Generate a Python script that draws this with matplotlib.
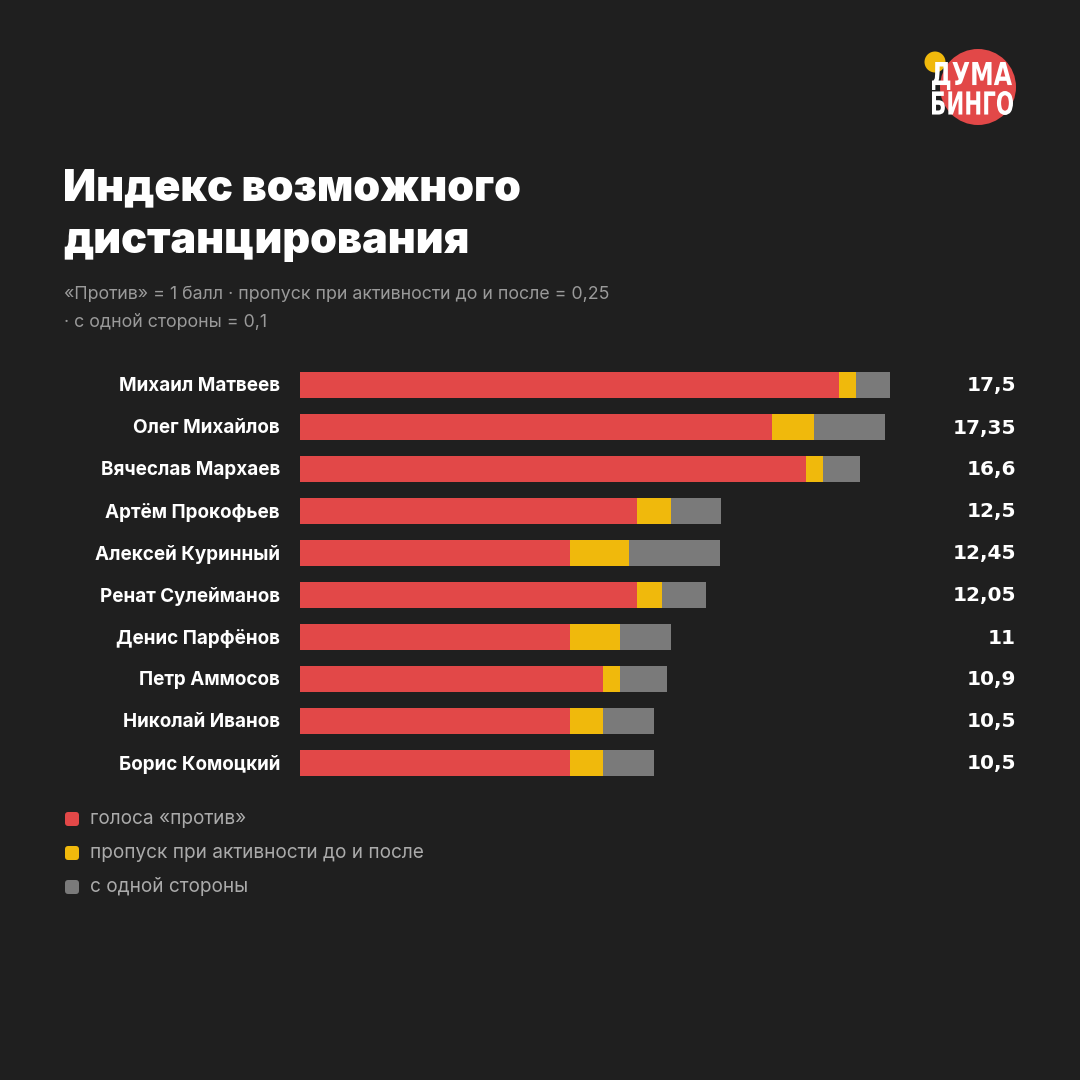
import matplotlib
matplotlib.use("Agg")
import matplotlib.pyplot as plt
from matplotlib.patches import Circle, FancyBboxPatch, PathPatch
from matplotlib.textpath import TextPath
from matplotlib.font_manager import FontProperties
from matplotlib.transforms import Affine2D

names = ["Михаил Матвеев", "Олег Михайлов", "Вячеслав Мархаев", "Артём Прокофьев",
         "Алексей Куринный", "Ренат Сулейманов", "Денис Парфёнов", "Петр Аммосов",
         "Николай Иванов", "Борис Комоцкий"]
against = [16, 14, 15, 10, 8, 10, 8, 9, 8, 8]
skips = [0.5, 1.25, 0.5, 1.0, 1.75, 0.75, 1.5, 0.5, 1.0, 1.0]
one_side = [1.0, 2.1, 1.1, 1.5, 2.7, 1.3, 1.5, 1.4, 1.5, 1.5]
totals = ["17,5", "17,35", "16,6", "12,5", "12,45", "12,05", "11", "10,9", "10,5", "10,5"]
legend_labels = ["голоса «против»", "пропуск при активности до и после", "с одной стороны"]

BG = "#1f1f1f"
RED = "#e24848"
YEL = "#f0b90c"
GRY = "#7a7a7a"
colors = [RED, YEL, GRY]

W = H = 1080
fig = plt.figure(figsize=(10.8, 10.8), dpi=100, facecolor=BG)

def fx(px):
    return px / W

def fy(py):
    return 1 - py / H

FONT = ["Inter", "DejaVu Sans"]

ax = fig.add_axes([fx(300), fy(784), fx(590), 420 / H])
ax.set_facecolor(BG)
ax.set_xlim(0, 17.5)
ax.set_ylim(len(names) - 0.5, -0.5)
ax.axis("off")
ys = list(range(len(names)))
left = [0] * len(names)
for vals, c in zip([against, skips, one_side], colors):
    ax.barh(ys, vals, left=left, height=0.62, color=c, linewidth=0)
    left = [l + v for l, v in zip(left, vals)]

for i, (n, t) in enumerate(zip(names, totals)):
    ypix = 386 + 42 * i
    fig.text(fx(280), fy(ypix), n, ha="right", va="center", color="white",
             fontsize=13.6, fontweight="bold", family=FONT)
    fig.text(fx(1016), fy(ypix), t, ha="right", va="center", color="white",
             fontsize=14.5, fontweight="bold", family=["DejaVu Sans"])

# Title
fig.text(fx(63), fy(189), "Индекс возможного", ha="left", va="center", color="white",
         fontsize=31, fontweight="black", family=FONT)
fig.text(fx(63), fy(241), "дистанцирования", ha="left", va="center", color="white",
         fontsize=31, fontweight="black", family=FONT)
fig.text(fx(64), fy(295), "«Против» = 1 балл · пропуск при активности до и после = 0,25",
         ha="left", va="center", color="#9a9a9a", fontsize=12.8, family=FONT)
fig.text(fx(64), fy(322), "· с одной стороны = 0,1",
         ha="left", va="center", color="#9a9a9a", fontsize=12.8, family=FONT)

# Legend
for i, (lab, c) in enumerate(zip(legend_labels, colors)):
    ypix = 819 + 34 * i
    fig.patches.append(FancyBboxPatch((fx(65), fy(ypix + 7)), fx(14), 14 / H,
                                      boxstyle="round,pad=0,rounding_size=0.003",
                                      transform=fig.transFigure, facecolor=c,
                                      edgecolor="none"))
    fig.text(fx(90), fy(ypix), lab, ha="left", va="center", color="#ababab",
             fontsize=13.7, family=FONT)

# Logo
fig.patches.append(Circle((fx(978), fy(87)), 38 / W, transform=fig.transFigure,
                          facecolor=RED, edgecolor="none"))
fig.patches.append(Circle((fx(935), fy(62)), 10.5 / W, transform=fig.transFigure,
                          facecolor=YEL, edgecolor="none"))
fp = FontProperties(family="DejaVu Sans", weight="bold")

def logo_word(word, x0, x1, ytop, ybot):
    tp = TextPath((0, 0), word, size=100, prop=fp)
    ext = tp.get_extents()
    sx = (x1 - x0) / ext.width
    sy = (ybot - ytop) / ext.height
    tr = (Affine2D().translate(-ext.x0, -ext.y0).scale(sx / W, sy / H)
          .translate(fx(x0), fy(ybot)) + fig.transFigure)
    fig.patches.append(PathPatch(tp, transform=tr, facecolor="white", edgecolor="none"))

logo_word("ДУМА", 932, 1012, 62, 90)
logo_word("БИНГО", 932, 1013, 91, 115)

fig.savefig("out.png", dpi=100, facecolor=BG)
